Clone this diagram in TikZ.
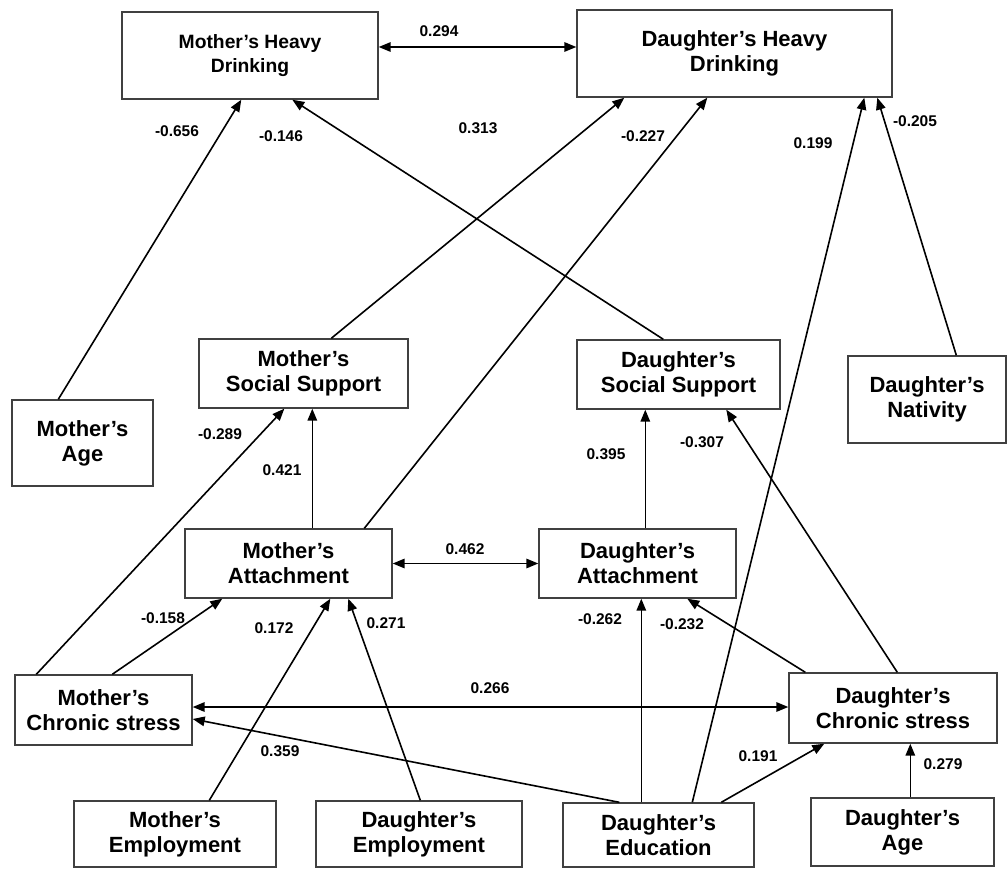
\documentclass[tikz,border=0pt]{standalone}
\usepackage{fontspec}
\setmainfont{Liberation Sans}
\usetikzlibrary{arrows.meta}
\begin{document}
\begin{tikzpicture}[x=1pt,y=-1pt,
  box/.style={draw=black!75,line width=1.4pt,align=center,inner sep=0pt,
    font=\bfseries\fontsize{22}{25}\selectfont},
  smallbox/.style={box,font=\bfseries\fontsize{19.3}{24}\selectfont},
  conn/.style={line width=1.6pt,-{Triangle[length=12pt,width=9.5pt]}},
  dconn/.style={line width=1.6pt,{Triangle[length=12pt,width=9.5pt]}-{Triangle[length=12pt,width=9.5pt]}},
  lab/.style={font=\bfseries\fontsize{15.5}{17}\selectfont,inner sep=0pt}]
\useasboundingbox (0,0) rectangle (1008,869);
% boxes
\node[smallbox,minimum width=256pt,minimum height=87pt] (mhd) at (250,55.5) {Mother's Heavy\\Drinking};
\node[box,minimum width=315pt,minimum height=87pt] (dhd) at (734.5,53.5) {Daughter's Heavy\\Drinking};
\node[box,minimum width=141pt,minimum height=86pt] (mage) at (82.5,443) {Mother's\\Age};
\node[box,minimum width=209pt,minimum height=69pt] (mss) at (303.5,373.5) {Mother's\\Social Support};
\node[box,minimum width=203pt,minimum height=69pt] (dss) at (678.5,374.5) {Daughter's\\Social Support};
\node[box,minimum width=158pt,minimum height=87pt] (dnat) at (927,399.5) {Daughter's\\Nativity};
\node[box,minimum width=207pt,minimum height=69pt] (ma) at (288.5,563.5) {Mother's\\Attachment};
\node[box,minimum width=197pt,minimum height=69pt] (da) at (637.5,563.5) {Daughter's\\Attachment};
\node[box,minimum width=177pt,minimum height=70pt] (mcs) at (103.5,710) {Mother's\\Chronic stress};
\node[box,minimum width=208pt,minimum height=70pt] (dcs) at (893,708) {Daughter's\\Chronic stress};
\node[box,minimum width=202pt,minimum height=66pt] (memp) at (175,834) {Mother's\\Employment};
\node[box,minimum width=206pt,minimum height=66pt] (demp) at (419,834) {Daughter's\\Employment};
\node[box,minimum width=191pt,minimum height=64pt] (dedu) at (658.5,835) {Daughter's\\Education};
\node[box,minimum width=183pt,minimum height=68pt] (dage) at (902.5,832) {Daughter's\\Age};
% connectors
\draw[dconn] ([yshift=8.5pt]mhd.east) -- ([yshift=8.5pt]mhd.east -| dhd.west);
\draw[dconn] (ma.east) -- (da.west);
\draw[dconn] ([yshift=3pt]mcs.east) -- ([yshift=3pt]mcs.east -| dcs.west);
\draw[conn] ([xshift=47pt]mage.north west) -- ([xshift=120pt]mhd.south west);
\draw[conn] ([xshift=87pt]dss.north west) -- ([xshift=171pt]mhd.south west);
\draw[conn] ([xshift=133pt]mss.north west) -- ([xshift=48pt]dhd.south west);
\draw[conn] ([xshift=180pt]ma.north west) -- ([xshift=131pt]dhd.south west);
\draw[conn] ([xshift=130pt]dedu.north west) -- ([xshift=288pt]dhd.south west);
\draw[conn] ([xshift=109pt]dnat.north west) -- ([xshift=301pt]dhd.south west);
\draw[conn] ([xshift=22pt]mcs.north west) -- ([xshift=86pt]mss.south west);
\draw[conn] ([xshift=128pt]ma.north west) -- ([xshift=114pt]mss.south west);
\draw[conn] ([xshift=107pt]da.north west) -- ([xshift=69pt]dss.south west);
\draw[conn] ([xshift=109pt]dcs.north west) -- ([xshift=150pt]dss.south west);
\draw[conn] ([xshift=98pt]mcs.north west) -- ([xshift=38pt]ma.south west);
\draw[conn] ([xshift=136pt]memp.north west) -- ([xshift=146pt]ma.south west);
\draw[conn] ([xshift=105pt]demp.north west) -- ([xshift=164pt]ma.south west);
\draw[conn] ([xshift=57pt]dedu.north west) -- ([yshift=-9pt]mcs.east);
\draw[conn] ([xshift=79pt]dedu.north west) -- ([xshift=103pt]da.south west);
\draw[conn] ([xshift=17pt]dcs.north west) -- ([xshift=149pt]da.south west);
\draw[conn] ([xshift=159pt]dedu.north west) -- ([xshift=36pt]dcs.south west);
\draw[conn] ([xshift=100pt]dage.north west) -- ([xshift=122pt]dcs.south west);
% labels
\node[lab] (l1) at (439,31) {0.294};
\node[lab] (l2) at (177,131) {-0.656};
\node[lab] (l3) at (281,136) {-0.146};
\node[lab] (l4) at (478,128) {0.313};
\node[lab] (l5) at (643,136) {-0.227};
\node[lab] (l6) at (813,143) {0.199};
\node[lab] (l7) at (915,121) {-0.205};
\node[lab] (l8) at (220,434) {-0.289};
\node[lab] (l9) at (282,470) {0.421};
\node[lab] (l10) at (606,454) {0.395};
\node[lab] (l11) at (702,442) {-0.307};
\node[lab] (l12) at (465,549) {0.462};
\node[lab] (l13) at (163,618) {-0.158};
\node[lab] (l14) at (274,628) {0.172};
\node[lab] (l15) at (386,623) {0.271};
\node[lab] (l16) at (490,688) {0.266};
\node[lab] (l17) at (280,751) {0.359};
\node[lab] (l18) at (600,619) {-0.262};
\node[lab] (l19) at (682,624) {-0.232};
\node[lab] (l20) at (758,756) {0.191};
\node[lab] (l21) at (943,764) {0.279};
\end{tikzpicture}
\end{document}
